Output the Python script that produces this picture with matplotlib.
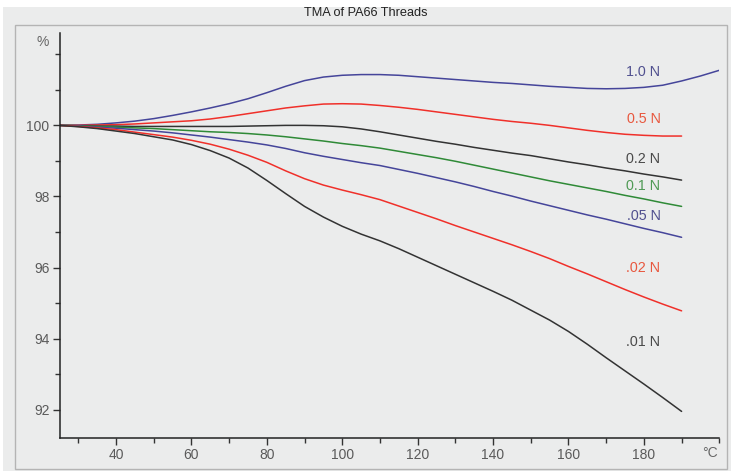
import matplotlib
matplotlib.use("Agg")
import matplotlib.pyplot as plt
from matplotlib.patches import Rectangle
from matplotlib.ticker import MultipleLocator

plt.rcParams['font.family'] = ['Liberation Sans', 'DejaVu Sans']

# ---- data (temperature in °C, length change in %) ----
temp = [25, 30, 35, 40, 45, 50, 55, 60, 65, 70, 75, 80, 85, 90, 95, 100, 105, 110,
        115, 120, 125, 130, 135, 140, 145, 150, 155, 160, 165, 170, 175, 180, 185, 190]
temp_10 = temp + [195, 200]

load_1_0 = [100.00, 100.01, 100.03, 100.07, 100.12, 100.19, 100.28, 100.38, 100.49, 100.61,
            100.75, 100.92, 101.10, 101.26, 101.36, 101.41, 101.43, 101.43, 101.41, 101.37,
            101.33, 101.29, 101.25, 101.21, 101.18, 101.14, 101.10, 101.07, 101.04, 101.03,
            101.04, 101.07, 101.13, 101.25, 101.39, 101.55]
load_0_5 = [100.00, 100.00, 100.01, 100.02, 100.04, 100.07, 100.10, 100.13, 100.18, 100.25,
            100.33, 100.41, 100.49, 100.55, 100.60, 100.61, 100.60, 100.56, 100.51, 100.45,
            100.38, 100.31, 100.24, 100.17, 100.11, 100.06, 100.00, 99.93, 99.86, 99.80,
            99.75, 99.72, 99.70, 99.70]
load_0_2 = [100.00, 99.99, 99.98, 99.98, 99.97, 99.97, 99.97, 99.97, 99.97, 99.97,
            99.98, 99.99, 100.00, 100.00, 99.99, 99.96, 99.90, 99.82, 99.73, 99.64,
            99.55, 99.47, 99.38, 99.30, 99.22, 99.15, 99.06, 98.97, 98.89, 98.80,
            98.72, 98.63, 98.55, 98.46]
load_0_1 = [100.00, 99.99, 99.97, 99.95, 99.93, 99.91, 99.88, 99.85, 99.82, 99.80,
            99.77, 99.73, 99.68, 99.62, 99.56, 99.49, 99.43, 99.36, 99.27, 99.18,
            99.09, 98.99, 98.88, 98.77, 98.66, 98.55, 98.44, 98.34, 98.24, 98.14,
            98.03, 97.93, 97.82, 97.72]
load_05 = [100.00, 99.98, 99.95, 99.92, 99.88, 99.84, 99.79, 99.73, 99.67, 99.60,
           99.53, 99.45, 99.35, 99.23, 99.13, 99.04, 98.95, 98.87, 98.76, 98.65,
           98.53, 98.41, 98.28, 98.14, 98.01, 97.87, 97.74, 97.61, 97.48, 97.36,
           97.23, 97.10, 96.98, 96.85]
load_02 = [100.00, 99.97, 99.93, 99.88, 99.81, 99.74, 99.67, 99.58, 99.47, 99.33,
           99.16, 98.96, 98.72, 98.50, 98.32, 98.18, 98.05, 97.91, 97.73, 97.55,
           97.37, 97.18, 97.00, 96.82, 96.64, 96.45, 96.25, 96.03, 95.82, 95.60,
           95.38, 95.17, 94.97, 94.78]
load_01 = [100.00, 99.96, 99.91, 99.84, 99.77, 99.68, 99.59, 99.46, 99.29, 99.08,
           98.80, 98.45, 98.08, 97.72, 97.42, 97.16, 96.94, 96.75, 96.53, 96.29,
           96.05, 95.81, 95.57, 95.33, 95.08, 94.80, 94.52, 94.20, 93.84, 93.46,
           93.09, 92.72, 92.34, 91.95]

labels = ["1.0 N", "0.5 N", "0.2 N", "0.1 N", ".05 N", ".02 N", ".01 N"]
label_y = [101.50, 100.19, 99.06, 98.28, 97.45, 96.00, 93.91]
series = [load_1_0, load_0_5, load_0_2, load_0_1, load_05, load_02, load_01]
line_colors = ["#45459a", "#f0302a", "#333333", "#2f8a37", "#45459a", "#f0302a", "#333333"]
text_colors = ["#50508f", "#e8583f", "#4a4a4a", "#4f9a55", "#50508f", "#e8583f", "#4a4a4a"]

x_major = [40, 60, 80, 100, 120, 140, 160, 180]
y_major = [92, 94, 96, 98, 100]

W, H = 731, 475
fig = plt.figure(figsize=(W / 100, H / 100), dpi=100)
fig.patch.set_facecolor("white")

def fx(px):
    return px / W

def fy(py):
    return 1 - py / H

# gray panel and frame
fig.patches.append(Rectangle((fx(3), fy(471)), fx(731) - fx(3), fy(7) - fy(471),
                             transform=fig.transFigure, fc="#ebecec", ec="none", zorder=-5))
fig.patches.append(Rectangle((fx(15), fy(469)), fx(727) - fx(15), fy(25) - fy(469),
                             transform=fig.transFigure, fc="none", ec="#b4b4b4", lw=1.0, zorder=-4))

fig.text(fx(366), fy(13), "TMA of PA66 Threads", ha="center", va="center",
         fontsize=9.2, color="#222222")

ax = fig.add_axes([fx(60), fy(437.7), fx(719.3) - fx(60), fy(33) - fy(437.7)])
ax.set_zorder(2)
ax.set_facecolor("none")
ax.set_xlim(25.15, 200.0)
ax.set_ylim(91.21, 102.6)

for s in ["top", "right"]:
    ax.spines[s].set_visible(False)
for s in ["left", "bottom"]:
    ax.spines[s].set_color("#222222")
    ax.spines[s].set_linewidth(1.1)

ax.set_xticks(x_major)
ax.set_yticks(y_major)
ax.xaxis.set_minor_locator(MultipleLocator(10))
ax.yaxis.set_minor_locator(MultipleLocator(1))
ax.tick_params(which="major", direction="out", length=5, width=1, color="#333333",
               labelsize=10, labelcolor="#5a5a5a", pad=2.5)
ax.tick_params(which="minor", direction="out", length=3.5, width=1, color="#333333")

for i, (ys, c) in enumerate(zip(series, line_colors)):
    xs = temp_10 if i == 0 else temp
    ax.plot(xs, ys, color=c, lw=1.1, solid_capstyle="round", solid_joinstyle="round")

for lab, ly, tc in zip(labels, label_y, text_colors):
    ax.text(184.4, ly, lab, ha="right", va="center", fontsize=10.3, color=tc)

fig.text(fx(43), fy(42), "%", ha="center", va="center", fontsize=10, color="#666666")
fig.text(fx(710), fy(453), "°C", ha="center", va="center", fontsize=10, color="#666666")

fig.savefig("out.png", dpi=100, facecolor=fig.get_facecolor())
